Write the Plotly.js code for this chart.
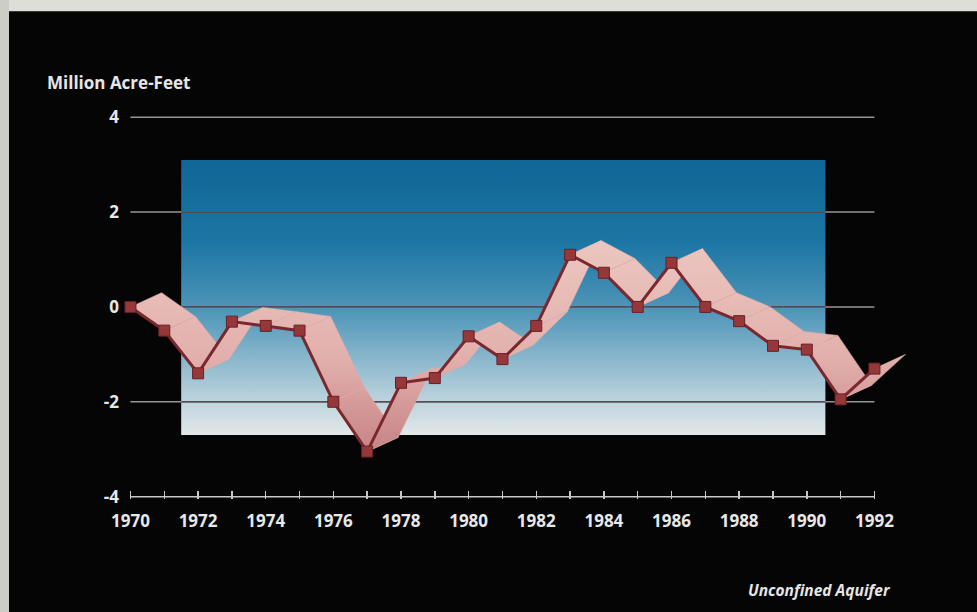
<!DOCTYPE html>
<html>
<head>
<meta charset="utf-8">
<script src="https://cdn.plot.ly/plotly-3.0.1.min.js"></script>
<style>html,body{margin:0;padding:0;background:#050505;}#chart{width:977px;height:612px;}</style>
</head>
<body>
<div id="chart"></div>
<script>
// ---- data ----
const years = [1970,1971,1972,1973,1974,1975,1976,1977,1978,1979,1980,1981,1982,1983,1984,1985,1986,1987,1988,1989,1990,1991,1992];
const values = [0,-0.5,-1.4,-0.31,-0.4,-0.5,-2.0,-3.05,-1.6,-1.5,-0.62,-1.1,-0.4,1.1,0.72,0,0.93,0,-0.3,-0.82,-0.9,-1.95,-1.3];
const xTickVals = [1970,1971,1972,1973,1974,1975,1976,1977,1978,1979,1980,1981,1982,1983,1984,1985,1986,1987,1988,1989,1990,1991,1992];
const xTickText = ['1970','','1972','','1974','','1976','','1978','','1980','','1982','','1984','','1986','','1988','','1990','','1992'];
const yTicks = [4,2,0,-2,-4];
const yTickText = ['4','2','0','-2','-4'];
const yTitle = 'Million Acre-Feet';
const caption = 'Unconfined Aquifer';
const panelX = [1971.5, 1990.55];
const panelY = [-2.7, 3.1];

// ---- styling constants ----
const ribbonDX = 0.92, ribbonDY = 0.3;
const gridX = [years[0], years[years.length-1]];

const traces = [];

// background panel (gradient)
traces.push({
  x:[panelX[0],panelX[1],panelX[1],panelX[0],panelX[0]],
  y:[panelY[0],panelY[0],panelY[1],panelY[1],panelY[0]],
  mode:'lines', line:{width:0}, fill:'toself', fillcolor:'rgb(20,105,150)',
  fillgradient:{type:'vertical', start:panelY[0], stop:panelY[1],
    colorscale:[[0,'rgb(226,232,232)'],[0.12,'rgb(190,212,222)'],[0.45,'rgb(80,150,185)'],[0.7,'rgb(28,118,164)'],[1,'rgb(16,102,150)']]},
  hoverinfo:'skip', showlegend:false
});

// gridlines (gray over black, darker over panel)
const gx=[], gy=[], dx=[], dy=[];
yTicks.filter(v=>v>-4).forEach(v=>{
  gx.push(gridX[0],gridX[1],null); gy.push(v,v,null);
  if (v>panelY[0] && v<panelY[1]) { dx.push(panelX[0],panelX[1],null); dy.push(v,v,null); }
});
traces.push({x:gx,y:gy,mode:'lines',line:{color:'rgb(150,150,150)',width:1.5},hoverinfo:'skip',showlegend:false});
traces.push({x:dx,y:dy,mode:'lines',line:{color:'rgba(50,40,55,0.65)',width:1.8},hoverinfo:'skip',showlegend:false});

// ribbon (extruded band behind the line), one parallelogram per segment
for (let i=0;i<years.length-1;i++){
  traces.push({
    x:[years[i],years[i+1],years[i+1]+ribbonDX,years[i]+ribbonDX,years[i]],
    y:[values[i],values[i+1],values[i+1]+ribbonDY,values[i]+ribbonDY,values[i]],
    mode:'lines',line:{width:0.5,color:'rgb(222,172,168)'},fill:'toself',fillcolor:'rgb(225,175,170)',
    fillgradient:{type:'vertical',start:-3.1,stop:1.4,colorscale:[[0,'rgb(198,130,132)'],[0.45,'rgb(226,176,172)'],[1,'rgb(236,198,192)']]},
    hoverinfo:'skip',showlegend:false});
}

traces.push({x:years,y:values,mode:'lines+markers',
  line:{color:'rgb(122,40,46)',width:3},
  marker:{symbol:'square',size:11,color:'rgb(150,55,58)',line:{color:'rgb(105,32,38)',width:1}},
  showlegend:false});

const layout = {
  width:977,height:612,
  margin:{l:122,r:62,t:103,b:113},
  paper_bgcolor:'#050505', plot_bgcolor:'rgba(0,0,0,0)',
  font:{family:'Open Sans, sans-serif',color:'#e6e6e6'},
  xaxis:{range:[1969.75,1993.2],tickvals:xTickVals,ticktext:xTickText,ticks:'inside',ticklen:8,tickwidth:1.5,
    tickcolor:'rgb(200,200,200)',showgrid:false,zeroline:false,showline:false,ticklabelstandoff:10,
    tickfont:{size:17,color:'#e8e8e8',family:'Open Sans, sans-serif',weight:'bold'}},
  yaxis:{range:[-4.05,4.3],tickvals:yTicks,ticktext:yTickText,ticks:'',showgrid:false,zeroline:false,showline:false,
    ticklabelstandoff:2,
    tickfont:{size:17,color:'#e8e8e8',family:'Open Sans, sans-serif',weight:'bold'}},
  shapes:[
    {type:'line',xref:'x',yref:'y',x0:gridX[0],x1:gridX[1],y0:-4,y1:-4,line:{color:'rgb(200,200,200)',width:1.5}},
    {type:'rect',xref:'paper',yref:'paper',x0:-0.16,x1:1.09,y0:1.232,y1:1.3,fillcolor:'rgb(222,222,216)',line:{width:0}},
    {type:'rect',xref:'paper',yref:'paper',x0:-0.16,x1:-0.1425,y0:-0.3,y1:1.3,fillcolor:'rgb(205,205,200)',line:{width:0}}
  ],
  annotations:[
    {text:yTitle,xref:'paper',yref:'paper',x:-0.097,y:1.052,xanchor:'left',yanchor:'middle',showarrow:false,
      font:{size:17,color:'#e6e6e6',family:'Open Sans, sans-serif',weight:'bold'}},
    {text:'<i>'+caption+'</i>',xref:'paper',yref:'paper',x:0.972,y:-0.229,xanchor:'right',yanchor:'middle',showarrow:false,
      font:{size:15.5,color:'#e6e6e6',family:'Open Sans, sans-serif',weight:'bold'}}
  ]
};

Plotly.newPlot('chart',traces,layout,{displayModeBar:false,staticPlot:true});
</script>
</body>
</html>
